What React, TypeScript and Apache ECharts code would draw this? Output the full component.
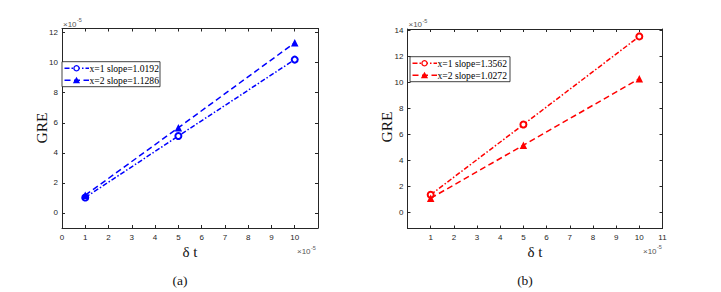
import React, { useEffect, useRef } from "react";
import * as echarts from "echarts";

// Panel (a)
const dtA = [1, 5, 10];
const greA1 = [1.03, 5.12, 10.2];
const greA2 = [1.18, 5.67, 11.32];
const legendA = ["x=1 slope=1.0192", "x=2 slope=1.1286"];
const xTicksA = [0, 1, 2, 3, 4, 5, 6, 7, 8, 9, 10];
const yTicksA = [0, 2, 4, 6, 8, 10, 12];

// Panel (b)
const dtB = [1, 5, 10];
const greB1 = [1.37, 6.77, 13.55];
const greB2 = [1.1, 5.18, 10.3];
const legendB = ["x=1 slope=1.3562", "x=2 slope=1.0272"];
const xTicksB = [1, 2, 3, 4, 5, 6, 7, 8, 9, 10, 11];
const yTicksB = [0, 2, 4, 6, 8, 10, 12, 14];

const AXIS_COLOR = "#262626";
const LABEL_COLOR = "#262626";
const SANS = "Liberation Sans";
const SERIF = "Liberation Serif";
const DASHDOT = [5, 2, 1.5, 2];
const DASHED = [6, 3.5];

function pairs(xs: number[], ys: number[]) {
  return xs.map((x, i) => [x, ys[i]]);
}

function xAxes(grid: number, min: number, max: number, labels: number[], ticks: number[]) {
  const common = {
    type: "value" as const,
    gridIndex: grid,
    min,
    max,
    splitLine: { show: false },
    axisLine: { show: true, onZero: false, lineStyle: { color: AXIS_COLOR, width: 1 } },
    axisTick: { show: true, inside: true, length: 3, customValues: ticks, lineStyle: { color: AXIS_COLOR } },
  };
  return [
    {
      ...common,
      position: "bottom",
      axisLabel: {
        show: true,
        customValues: labels,
        fontSize: 8,
        color: LABEL_COLOR,
        fontFamily: SANS,
        margin: 5,
      },
    },
    { ...common, position: "top", axisLabel: { show: false } },
  ];
}

function yAxes(grid: number, min: number, max: number, labels: number[]) {
  const common = {
    type: "value" as const,
    gridIndex: grid,
    min,
    max,
    splitLine: { show: false },
    axisLine: { show: true, onZero: false, lineStyle: { color: AXIS_COLOR, width: 1 } },
    axisTick: { show: true, inside: true, length: 3, customValues: labels, lineStyle: { color: AXIS_COLOR } },
  };
  return [
    {
      ...common,
      position: "left",
      axisLabel: {
        show: true,
        customValues: labels,
        fontSize: 8,
        color: LABEL_COLOR,
        fontFamily: SANS,
        margin: 4,
      },
    },
    { ...common, position: "right", axisLabel: { show: false } },
  ];
}

function series(xi: number, yi: number, data: number[][], color: string, dash: number[], symbol: string) {
  const tri = symbol === "triangle";
  return {
    type: "line",
    xAxisIndex: xi,
    yAxisIndex: yi,
    data,
    symbol: tri ? "triangle" : "emptyCircle",
    symbolSize: tri ? 7.5 : 6,
    showSymbol: true,
    lineStyle: { color, width: 1.5, type: dash },
    itemStyle: { color, borderColor: color, borderWidth: tri ? 0 : 1.3 },
    z: 3,
  };
}

function txt(x: number, y: number, text: string, size: number, family: string, fill: string, align = "left", rotation = 0) {
  return {
    type: "text",
    x,
    y,
    rotation,
    z: 12,
    style: {
      text,
      fontSize: size,
      fontFamily: family,
      fontWeight: "normal",
      fill,
      align,
      verticalAlign: "middle",
    },
  };
}

function legendBox(x: number, y: number, w: number, h: number, color: string, texts: string[]) {
  const row1 = y + 6.5;
  const row2 = y + 18.5;
  const lx0 = x + 2.5;
  const lx1 = x + 27;
  const mx = x + 14.5;
  return {
    type: "group",
    children: [
      { type: "rect", shape: { x, y, width: w, height: h }, style: { fill: "#fff", stroke: "#111", lineWidth: 0.8 }, z: 10 },
      { type: "line", shape: { x1: lx0, y1: row1, x2: lx1, y2: row1 }, style: { stroke: color, lineWidth: 1.5, lineDash: DASHDOT }, z: 11 },
      { type: "circle", shape: { cx: mx, cy: row1, r: 2.6 }, style: { fill: "#fff", stroke: color, lineWidth: 1.3 }, z: 12 },
      { type: "line", shape: { x1: lx0, y1: row2, x2: lx1, y2: row2 }, style: { stroke: color, lineWidth: 1.5, lineDash: DASHED }, z: 11 },
      { type: "polygon", shape: { points: [[mx, row2 - 3.5], [mx - 3.6, row2 + 3], [mx + 3.6, row2 + 3]] }, style: { fill: color }, z: 12 },
      txt(x + 27.5, row1, texts[0], 9.6, SERIF, "#000"),
      txt(x + 27.5, row2, texts[1], 9.6, SERIF, "#000"),
    ],
  };
}

function expLabel(x: number, y: number) {
  return {
    type: "group",
    children: [
      txt(x, y, "×10", 8, SANS, "#555"),
      txt(x + 14, y - 4, "-5", 5.5, SANS, "#555"),
    ],
  };
}

export default function App() {
  const ref = useRef<HTMLDivElement>(null);
  useEffect(() => {
    if (!ref.current) return;
    const chart = echarts.init(ref.current, null, { renderer: "svg" });
    chart.setOption({
      animation: false,
      backgroundColor: "#fff",
      grid: [
        { left: 62, top: 28.5, width: 256, height: 199.5, containLabel: false },
        { left: 407.5, top: 29, width: 255, height: 199.5, containLabel: false },
      ],
      xAxis: [
        ...xAxes(0, 0, 11, xTicksA, [...xTicksA, 11]),
        ...xAxes(1, 0, 11, xTicksB, xTicksB),
      ],
      yAxis: [
        ...yAxes(0, -1, 12.27, yTicksA),
        ...yAxes(1, -1.23, 14.12, yTicksB),
      ],
      series: [
        series(0, 0, pairs(dtA, greA1), "#0000ff", DASHDOT, "circle"),
        series(0, 0, pairs(dtA, greA2), "#0000ff", DASHED, "triangle"),
        series(2, 2, pairs(dtB, greB1), "#ff0000", DASHDOT, "circle"),
        series(2, 2, pairs(dtB, greB2), "#ff0000", DASHED, "triangle"),
      ],
      graphic: [
        legendBox(62, 61.7, 98, 25, "#0000ff", legendA),
        legendBox(410, 56.7, 100, 25, "#ff0000", legendB),
        expLabel(63, 24),
        expLabel(408.5, 24.5),
        expLabel(297, 251.5),
        expLabel(643, 251),
        txt(41, 128, "GRE", 15.5, SERIF, "#111", "center", Math.PI / 2),
        txt(386, 127, "GRE", 15.5, SERIF, "#111", "center", Math.PI / 2),
        txt(190, 252, "δ t", 15, SERIF, "#111", "center"),
        txt(535, 252, "δ t", 15, SERIF, "#111", "center"),
        txt(180, 280, "(a)", 13.5, SERIF, "#111", "center"),
        txt(525, 280, "(b)", 13.5, SERIF, "#111", "center"),
      ],
    });
    return () => chart.dispose();
  }, []);
  return (
    <div
      ref={ref}
      style={{ position: "absolute", left: 0, top: 0, width: 721, height: 292, background: "#fff" }}
    />
  );
}
